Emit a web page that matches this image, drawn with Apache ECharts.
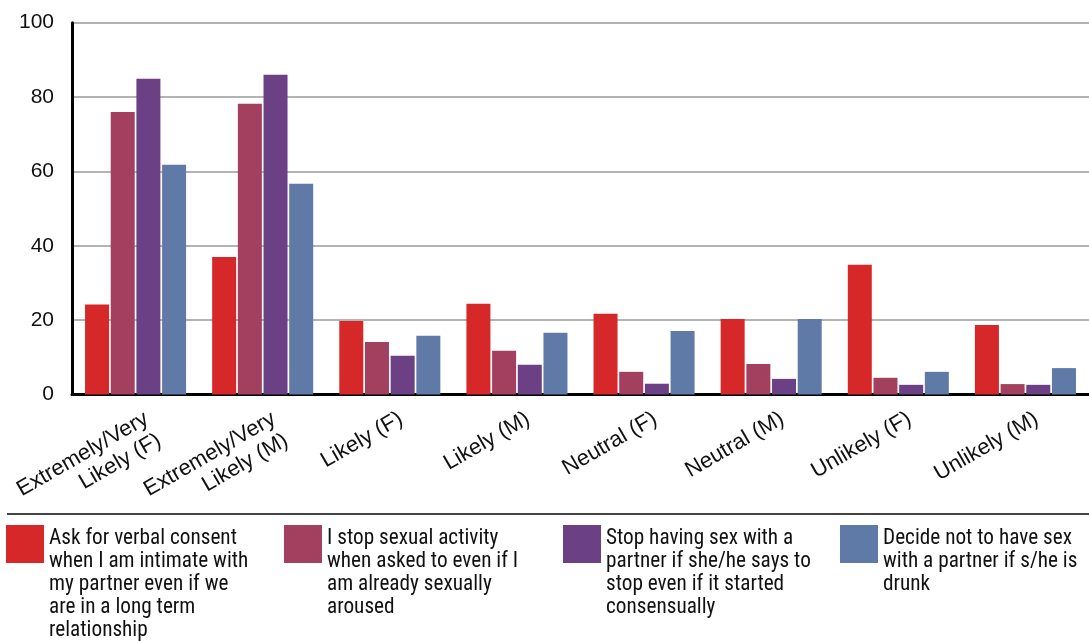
<!DOCTYPE html>
<html><head><meta charset="utf-8">
<script src="https://cdn.jsdelivr.net/npm/echarts@6/dist/echarts.min.js"></script>
<style>html,body{margin:0;padding:0;background:#fff}#c{width:1089px;height:641px}</style>
</head><body><div id="c"></div>
<script>
// ---- data ----
const categories = ['Extremely/Very\nLikely (F)', 'Extremely/Very\nLikely (M)', 'Likely (F)', 'Likely (M)', 'Neutral (F)', 'Neutral (M)', 'Unlikely (F)', 'Unlikely (M)'];
const seriesNames = [
  'Ask for verbal consent when I am intimate with my partner even if we are in a long term relationship',
  'I stop sexual activity when asked to even if I am already sexually aroused',
  'Stop having sex with a partner if she/he says to stop even if it started consensually',
  'Decide not to have sex with a partner if s/he is drunk'
];
const legendLabels = [
  'Ask for verbal consent\nwhen I am intimate with\nmy partner even if we\nare in a long term\nrelationship',
  'I stop sexual activity\nwhen asked to even if I\nam already sexually\naroused',
  'Stop having sex with a\npartner if she/he says to\nstop even if it started\nconsensually',
  'Decide not to have sex\nwith a partner if s/he is\ndrunk'
];
const askConsent    = [24.2, 37.0, 19.8, 24.4, 21.7, 20.3, 34.9, 18.7];
const stopWhenAsked = [76.0, 78.2, 14.1, 11.8, 6.1, 8.2, 4.5, 2.8];
const stopIfSays    = [84.9, 86.0, 10.4, 8.0, 2.9, 4.2, 2.6, 2.6];
const notIfDrunk    = [61.8, 56.7, 15.8, 16.6, 17.1, 20.3, 6.1, 7.1];
const yMin = 0, yMax = 100, yInterval = 20;

// ---- styling ----
const colors = ['#d62828', '#a33f5f', '#6b4085', '#5f7aa7'];
const values = [askConsent, stopWhenAsked, stopIfSays, notIfDrunk];

function fontAvailable(name) {
  const c = document.createElement('canvas').getContext('2d');
  const s = 'abcdefghijklmnopqrstuvwxyzABCDEFGHIJKLMNOPQRSTUVWXYZ0123456789';
  return ['monospace', 'serif', 'sans-serif'].some(function (base) {
    c.font = '40px ' + base; const w0 = c.measureText(s).width;
    c.font = '40px "' + name + '", ' + base; const w1 = c.measureText(s).width;
    return Math.abs(w0 - w1) > 0.5;
  });
}
let legendFont = 'Roboto';
['Roboto Condensed', 'Liberation Sans Narrow', 'Arial Narrow', 'DejaVu Sans Condensed'].some(function (f) {
  if (fontAvailable(f)) { legendFont = f; return true; } return false;
});
const mctx = document.createElement('canvas').getContext('2d');
mctx.font = '23px "' + legendFont + '"';
let legendSize = 23 * 188 / mctx.measureText('Ask for verbal consent').width;
legendSize = Math.max(16, Math.min(24, legendSize));

const LH = 23;
const squareLeft = [6, 284, 563, 840];
const squareTop = 525;
const legends = seriesNames.map(function (n, i) {
  const lines = legendLabels[i].split('\n').length;
  const h = lines * LH + 4;
  return {
    left: squareLeft[i], top: squareTop, padding: 0,
    orient: 'horizontal', itemWidth: 38, itemHeight: h,
    icon: 'path://M0,0H38V38H0Z M0,' + h + 'L0.01,' + h,
    selectedMode: false,
    data: [n],
    formatter: function () { return legendLabels[i]; },
    textStyle: { fontFamily: legendFont, fontSize: legendSize, lineHeight: LH, color: '#111' }
  };
});

const chart = echarts.init(document.getElementById('c'), null, { renderer: 'canvas' });
chart.setOption({
  animation: false,
  backgroundColor: '#fff',
  color: colors,
  grid: { left: 72, right: -7, top: 22.7, bottom: 246.5, containLabel: false },
  legend: legends,
  xAxis: {
    type: 'category', data: categories,
    axisLine: { show: true, lineStyle: { color: '#000', width: 3 } },
    axisTick: { show: false },
    axisLabel: { rotate: 30, interval: 0, margin: 12, verticalAlign: 'top', padding: [2.5, -4.3, 0, 0], fontFamily: 'Liberation Sans', fontSize: 22, lineHeight: 25, color: '#111' }
  },
  yAxis: {
    type: 'value', min: yMin, max: yMax, interval: yInterval,
    axisLine: { show: true, lineStyle: { color: '#000', width: 3 } },
    axisTick: { show: false },
    axisLabel: { margin: 18, fontFamily: 'Liberation Sans', fontSize: 21, color: '#111' },
    splitLine: { show: true, lineStyle: { color: '#9a9a9a', width: 1.5 } }
  },
  series: seriesNames.map(function (n, i) {
    return { name: n, type: 'bar', data: values[i], barWidth: 24, barGap: '7%', itemStyle: { color: colors[i] } };
  }),
  graphic: [{
    type: 'line', shape: { x1: 7, y1: 514, x2: 1089, y2: 514 },
    style: { stroke: '#444', lineWidth: 2 }, silent: true
  }]
});
</script></body></html>
